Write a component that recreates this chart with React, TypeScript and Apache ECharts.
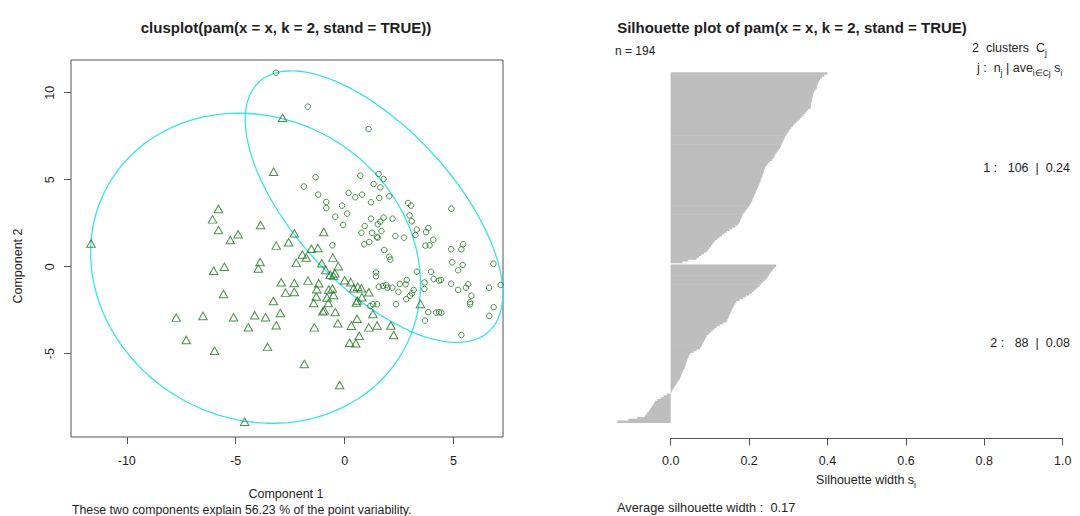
import React, { useEffect, useRef } from "react";
import * as echarts from "echarts";

// ---- Data ----
// Cluster 1 points (drawn as circles), [Component 1, Component 2]
const clusterOnePoints: [number, number][] = [
  [-3.15, 11.15], [-1.69, 9.2], [1.1, 7.91], [-1.33, 5.14], [-1.87, 4.61], [0.72, 5.23],
  [1.56, 5.33], [1.79, 5.04], [1.33, 4.75], [1.64, 4.56], [-1.21, 4.14], [0.18, 4.24],
  [0.49, 3.99], [0.8, 4.14], [2.05, 4.05], [1.59, 3.95], [1.21, 3.7], [-0.84, 3.72],
  [-0.84, 3.37], [-0.12, 3.51], [2.91, 3.66], [3.05, 3.51], [4.9, 3.33], [-0.43, 2.87],
  [0.12, 3.05], [1.21, 2.76], [1.79, 2.82], [2.2, 2.76], [2.98, 2.95], [3.08, 2.61],
  [1.64, 2.59], [1.52, 2.44], [-0.07, 2.4], [0.92, 2.34], [0.77, 1.95], [1.26, 1.95],
  [1.69, 2.05], [1.52, 1.67], [2.33, 1.76], [2.73, 1.67], [3.31, 2.13], [3.25, 1.82],
  [3.84, 2.22], [3.74, 1.99], [4.07, 1.55], [3.71, 1.21], [3.9, 1.23], [-0.56, 1.23],
  [0.9, 1.29], [1.13, 1.42], [1.82, 0.96], [2.05, 0.57], [2.1, 0.41], [4.89, 1.0],
  [5.36, 1.0], [5.44, 1.29], [1.44, -0.33], [1.44, -0.55], [3.31, -0.29], [3.97, -0.29],
  [4.09, -0.71], [4.33, -0.8], [3.67, -0.91], [2.85, -0.76], [2.53, -0.99], [2.8, -1.01],
  [1.57, -1.15], [1.76, -1.11], [1.97, -1.21], [2.19, -1.21], [2.47, -1.45], [3.17, -1.34],
  [3.09, -1.53], [3.0, -1.67], [2.83, -1.86], [3.66, -1.28], [2.36, -2.16], [1.3, -2.16],
  [1.49, -2.16], [3.84, -2.62], [4.2, -2.64], [4.33, -2.62], [3.69, -3.1], [4.94, 0.25],
  [5.42, 0.1], [5.21, -0.21], [6.83, 0.17], [7.16, -1.05], [6.63, -1.21], [4.89, -0.98],
  [5.21, -1.34], [5.57, -1.21], [5.67, -1.01], [5.82, -1.67], [5.76, -2.05], [5.76, -2.16],
  [6.84, -2.33], [6.64, -2.83], [5.36, -3.93], [1.48, 1.71], [1.91, -1.05], [4.42, -0.76],
  [1.18, -2.26], [4.44, -2.64],
];

// Cluster 2 points (drawn as triangles)
const clusterTwoPoints: [number, number][] = [
  [-11.64, 1.33], [-2.85, 8.56], [-3.26, 5.46], [-5.79, 3.32], [-6.06, 2.72], [-5.79, 2.11],
  [-5.25, 1.53], [-4.89, 1.86], [-3.86, 2.4], [-3.14, 1.21], [-2.57, 1.4], [-2.31, 1.92],
  [-1.94, 0.7], [-1.76, 0.53], [-2.22, 0.22], [-3.88, 0.27], [-3.96, -0.11], [-5.52, 0.0],
  [-6.01, -0.23], [-2.91, -0.9], [-2.31, -0.94], [-1.68, -0.8], [-2.71, -1.49], [-2.31, -1.45],
  [-5.56, -1.57], [-3.27, -1.97], [-2.95, -2.66], [-4.13, -2.79], [-3.63, -2.91], [-5.1, -2.91],
  [-6.5, -2.83], [-7.73, -2.93], [-4.42, -3.48], [-3.14, -3.37], [-7.27, -4.21], [-5.97, -4.83],
  [-3.54, -4.61], [-1.85, -5.59], [-4.59, -8.91], [-0.96, 1.99], [-1.53, 1.03], [-1.23, 1.07],
  [-0.54, 0.52], [-1.05, 0.2], [-0.29, 0.03], [-0.87, -0.19], [-0.66, -0.46], [-0.51, -0.53],
  [-0.45, -0.38], [-1.19, -0.95], [0.0, -0.78], [0.28, -0.89], [0.41, -1.24], [0.6, -1.15],
  [0.77, -1.24], [1.11, -1.47], [-1.28, -1.3], [-0.73, -1.31], [-0.56, -1.25], [-1.3, -1.71],
  [-0.81, -1.77], [-1.42, -2.09], [-0.75, -2.09], [-0.51, -1.63], [0.54, -2.06], [0.58, -1.94],
  [0.79, -1.76], [-1.0, -2.56], [-0.93, -2.51], [-0.43, -2.61], [1.3, -2.72], [0.57, -2.99],
  [-0.31, -3.25], [0.31, -3.39], [1.49, -3.38], [1.11, -3.49], [2.12, -3.38], [2.25, -3.93],
  [0.67, -3.97], [0.23, -4.37], [0.51, -4.4], [-1.39, -3.49], [-0.23, -6.8], [3.48, -2.14],
];

// Cluster ellipses: centre and two conjugate semi-diameters
const ellipseOne = { cx: 1.35, cy: 3.45, ux: 4.9, uy: -7.5, vx: 3.31, vy: 2.16 };
const ellipseTwo = { cx: -4.09, cy: -0.09, ux: 7.57, uy: -0.9, vx: 0, vy: 8.865 };

const scatterXTicks = [-10, -5, 0, 5];
const scatterYTicks = [-5, 0, 5, 10];

// Silhouette widths, sorted within each cluster
const clusterOneSilhouette = [
  0.4, 0.392, 0.386, 0.381,
  0.379, 0.377, 0.375, 0.373, 0.372,
  0.369, 0.366, 0.364, 0.363,
  0.362, 0.361, 0.36, 0.359, 0.358, 0.357, 0.357,
  0.35, 0.347, 0.343, 0.339, 0.334, 0.33,
  0.326, 0.321, 0.316, 0.312, 0.308, 0.304,
  0.301, 0.298, 0.295, 0.292,
  0.29, 0.288, 0.286, 0.284, 0.282, 0.279,
  0.276, 0.273, 0.27, 0.267, 0.265, 0.262,
  0.258, 0.253, 0.249, 0.245, 0.241,
  0.24, 0.238, 0.237, 0.235, 0.234, 0.232,
  0.23, 0.229, 0.227, 0.225, 0.223, 0.221, 0.219,
  0.217, 0.215, 0.213, 0.211, 0.209, 0.207, 0.205, 0.202,
  0.199, 0.196, 0.192, 0.189, 0.185,
  0.183, 0.181, 0.179, 0.177, 0.175, 0.172,
  0.165, 0.157, 0.15, 0.143,
  0.137, 0.131, 0.125, 0.119, 0.113,
  0.11, 0.106, 0.103, 0.099, 0.096, 0.092,
  0.085, 0.078, 0.072, 0.066,
  0.045, 0.03,
];
const clusterTwoSilhouette = [
  0.269, 0.265, 0.261, 0.258,
  0.254, 0.251, 0.248, 0.245,
  0.24, 0.235, 0.231, 0.227,
  0.222, 0.217, 0.212, 0.207,
  0.2, 0.192, 0.185, 0.176, 0.168,
  0.165, 0.162, 0.16, 0.157, 0.155,
  0.153, 0.151, 0.149, 0.147, 0.145, 0.143,
  0.134, 0.125, 0.117,
  0.112, 0.107, 0.102, 0.097, 0.092,
  0.09, 0.087, 0.085, 0.082, 0.08, 0.078, 0.075,
  0.066, 0.058, 0.05, 0.047,
  0.045, 0.043, 0.041, 0.04, 0.038, 0.037, 0.036,
  0.033, 0.031, 0.029, 0.027, 0.025, 0.023,
  0.02, 0.017, 0.014, 0.011,
  0.008, 0.005, 0.003, 0.0,
  -0.01, -0.018, -0.026, -0.034,
  -0.04, -0.043, -0.046, -0.049, -0.052,
  -0.055, -0.059, -0.062, -0.066,
  -0.085, -0.108, -0.136,
];

const FONT = "'Liberation Sans', Arial, Helvetica, sans-serif";
const TEXT = "#1e1e1e";
const AXIS = "#555555";
const GREEN = "#1f741f";
const CYAN = "#38e4ec";
const BAR = "#bebebe";

function ellipseLine(e: { cx: number; cy: number; ux: number; uy: number; vx: number; vy: number }) {
  const pts: [number, number][] = [];
  const n = 160;
  for (let k = 0; k <= n; k++) {
    const t = (2 * Math.PI * k) / n;
    pts.push([e.cx + e.ux * Math.cos(t) + e.vx * Math.sin(t), e.cy + e.uy * Math.cos(t) + e.vy * Math.sin(t)]);
  }
  return pts;
}

export default function App() {
  const ref = useRef<HTMLDivElement>(null);
  useEffect(() => {
    document.body.style.margin = "0";
    if (!ref.current) return;
    const chart = echarts.init(ref.current, undefined, { renderer: "svg" });

    const silCategories: string[] = [];
    const silData: [number, number][] = [];
    clusterOneSilhouette.forEach((v, i) => { silData.push([v, silCategories.length]); silCategories.push("c1-" + (i + 1)); });
    silCategories.push("gap");
    clusterTwoSilhouette.forEach((v, i) => { silData.push([v, silCategories.length]); silCategories.push("c2-" + (i + 1)); });

    const txt = (text: string, x: number, y: number, extra: any = {}) => ({
      type: "text", x, y, silent: true,
      style: { text, font: `12.5px ${FONT}`, fill: TEXT, textAlign: "left", textVerticalAlign: "middle", ...extra },
    });
    const sub = () => ({
      a: { fontSize: 12.5, fontFamily: FONT, fill: TEXT, color: TEXT, lineHeight: 18 },
      s: { fontSize: 8.5, fontFamily: FONT, fill: TEXT, color: TEXT, lineHeight: 18, verticalAlign: "bottom" },
    });

    const option: any = {
      animation: false,
      backgroundColor: "#ffffff",
      grid: [
        { left: 71, top: 60, width: 432, height: 377, show: true, borderColor: AXIS, borderWidth: 1, backgroundColor: "transparent", containLabel: false },
        { left: 600.1, top: 72.7, width: 478.2, height: 350, containLabel: false },
        { left: 670.7, top: 437.5, width: 392, height: 1, containLabel: false },
      ],
      xAxis: [
        {
          gridIndex: 0, type: "value", min: -12.56, max: 7.27, position: "bottom",
          axisLine: { show: false, onZero: false },
          axisTick: { show: true, customValues: scatterXTicks, length: 7, lineStyle: { color: AXIS } },
          axisLabel: { customValues: scatterXTicks, margin: 17, fontSize: 12.5, fontFamily: FONT, color: TEXT },
          splitLine: { show: false },
        },
        {
          gridIndex: 1, type: "value", min: -0.18, max: 1.04, show: false,
        },
        {
          gridIndex: 2, type: "value", min: 0, max: 1, interval: 0.2, position: "bottom",
          axisLine: { show: true, onZero: false, lineStyle: { color: AXIS } },
          axisTick: { show: true, length: 7, lineStyle: { color: AXIS } },
          axisLabel: { margin: 16, fontSize: 12.5, fontFamily: FONT, color: TEXT, formatter: (v: number) => v.toFixed(1) },
          splitLine: { show: false },
        },
      ],
      yAxis: [
        {
          gridIndex: 0, type: "value", min: -9.79, max: 11.88, position: "left",
          axisLine: { show: false, onZero: false },
          axisTick: { show: true, customValues: scatterYTicks, length: 7, lineStyle: { color: AXIS } },
          axisLabel: { customValues: scatterYTicks, rotate: 90, margin: 15, fontSize: 12.5, fontFamily: FONT, color: TEXT },
          splitLine: { show: false },
        },
        {
          gridIndex: 1, type: "category", data: silCategories, inverse: true, show: false,
        },
        { gridIndex: 2, type: "value", show: false, min: 0, max: 1 },
      ],
      series: [
        {
          type: "line", xAxisIndex: 0, yAxisIndex: 0, data: ellipseLine(ellipseTwo), showSymbol: false, symbol: "none",
          lineStyle: { color: CYAN, width: 1.3 }, silent: true, z: 1,
        },
        {
          type: "line", xAxisIndex: 0, yAxisIndex: 0, data: ellipseLine(ellipseOne), showSymbol: false, symbol: "none",
          lineStyle: { color: CYAN, width: 1.3 }, silent: true, z: 1,
        },
        {
          type: "scatter", xAxisIndex: 0, yAxisIndex: 0, data: clusterOnePoints, symbol: "circle", symbolSize: 5.5,
          itemStyle: { color: "rgba(0,0,0,0)", borderColor: GREEN, borderWidth: 1 }, z: 3,
        },
        {
          type: "scatter", xAxisIndex: 0, yAxisIndex: 0, data: clusterTwoPoints, symbol: "triangle", symbolSize: [8.5, 7.5],
          itemStyle: { color: "rgba(0,0,0,0)", borderColor: GREEN, borderWidth: 1 }, z: 3,
        },
        {
          type: "custom", xAxisIndex: 1, yAxisIndex: 1, data: silData, silent: true,
          encode: { x: 0, y: 1 },
          renderItem: (params: any, api: any) => {
            const v = api.value(0);
            const c = api.value(1);
            const p0 = api.coord([0, c]);
            const p1 = api.coord([v, c]);
            const h = api.size([0, 1])[1];
            return {
              type: "rect",
              shape: { x: Math.min(p0[0], p1[0]), y: p0[1] - h / 2 - 0.35, width: Math.abs(p1[0] - p0[0]), height: h + 0.7 },
              style: { fill: BAR },
            };
          },
        },
      ],
      graphic: [
        txt("clusplot(pam(x = x, k = 2, stand = TRUE))", 286, 27, { font: `bold 15px ${FONT}`, textAlign: "center" }),
        txt("Silhouette plot of pam(x = x, k = 2, stand = TRUE)", 792, 27.5, { font: `bold 15px ${FONT}`, textAlign: "center" }),
        txt("Component 1", 286, 494, { textAlign: "center" }),
        txt("These two components explain 56.23 % of the point variability.", 72, 510, { font: `12.3px ${FONT}` }),
        { ...txt("Component 2", 18, 266, { textAlign: "center" }), rotation: Math.PI / 2 },
        txt("n = 194", 615, 51, { font: `12px ${FONT}` }),
        txt("{a|2  clusters  C}{s|j}", 972, 48, { rich: sub() }),
        txt("{a|j :  n}{s|j}{a| | ave}{s|i∈Cj}{a| s}{s|i}", 977, 68, { rich: sub() }),
        txt("1 :   106  |  0.24", 1070, 168, { textAlign: "right" }),
        txt("2 :   88  |  0.08", 1070, 343, { textAlign: "right" }),
        txt("{a|Silhouette width s}{s|i}", 866, 480, { textAlign: "center", rich: sub() }),
        txt("Average silhouette width :  0.17", 617, 507, { font: `12.8px ${FONT}` }),
      ],
    };
    chart.setOption(option);
    return () => chart.dispose();
  }, []);
  return <div ref={ref} style={{ width: 1080, height: 516 }} />;
}
